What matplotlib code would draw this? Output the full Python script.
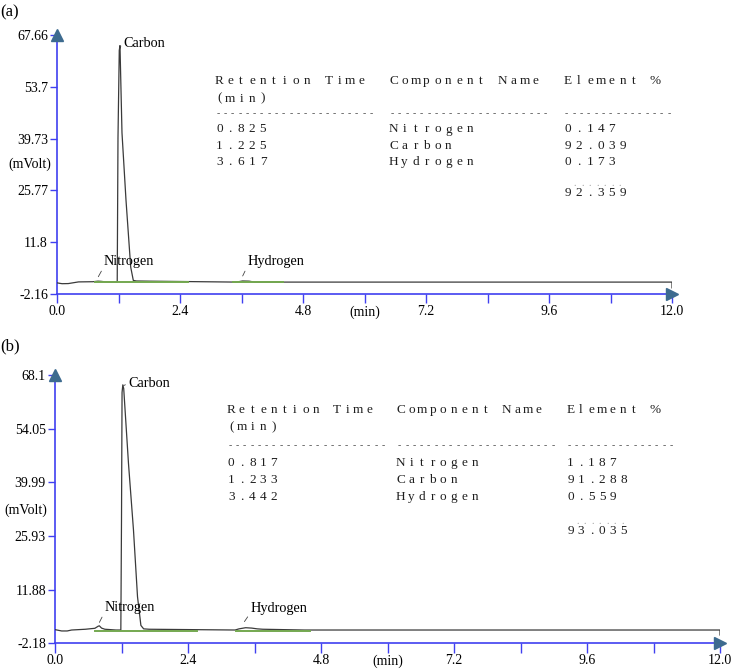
import matplotlib.pyplot as plt

plt.rcParams['font.family'] = ['Liberation Serif', 'DejaVu Serif']

# ---- chromatogram (a) ----
trace_a_t = [0.0, 0.06, 0.10, 0.22, 0.42, 0.70, 0.80, 0.86, 0.95, 1.175, 1.19, 1.215, 1.229,
             1.268, 1.346, 1.438, 1.489, 1.55, 1.80, 3.50, 3.62, 3.75, 3.85, 12.0, 12.0]
trace_a_v = [0.85, 0.70, 0.62, 0.65, 1.10, 1.15, 1.30, 1.25, 1.10, 1.05, 40.0, 63.5, 64.8,
             41.3, 23.2, 5.1, 1.5, 1.35, 1.3, 1.05, 1.35, 1.30, 1.05, 1.05, -0.5]
green_a = [(0.74, 2.56), (3.43, 4.41)]
base_a = 1.0
yticks_a = [-2.16, 11.8, 25.77, 39.73, 53.7, 67.66]
ylabels_a = ['-2.16', '11.8', '25.77', '39.73', '53.7', '67.66']
ret_a = ['0.825', '1.225', '3.617']
pct_a = ['0.147', '92.039', '0.173']
total_a = '92.359'

# ---- chromatogram (b) ----
trace_b_t = [0.0, 0.12, 0.22, 0.30, 0.55, 0.72, 0.78, 0.80, 0.84, 0.90, 1.10, 1.188, 1.20, 1.21,
             1.224, 1.24, 1.326, 1.416, 1.489, 1.55, 1.60, 1.70, 3.25, 3.32, 3.44, 3.55, 3.65,
             3.75, 4.50, 12.0, 12.0]
trace_b_v = [1.4, 1.05, 1.05, 1.3, 1.5, 1.75, 2.3, 2.4, 1.8, 1.5, 1.3, 1.3, 30.0, 63.5,
             65.5, 64.5, 44.9, 27.5, 10.0, 2.5, 1.6, 1.5, 1.3, 1.6, 1.9, 1.8, 1.6,
             1.5, 1.3, 1.3, 0.0]
green_b = [(0.72, 2.57), (3.26, 4.61)]
base_b = 1.15
yticks_b = [-2.18, 11.88, 25.93, 39.99, 54.05, 68.1]
ylabels_b = ['-2.18', '11.88', '25.93', '39.99', '54.05', '68.1']
ret_b = ['0.817', '1.233', '3.442']
pct_b = ['1.187', '91.288', '0.559']
total_b = '93.035'

components = ['Nitrogen', 'Carbon', 'Hydrogen']
xticks = [0.0, 1.2, 2.4, 3.6, 4.8, 6.0, 7.2, 8.4, 9.6, 10.8, 12.0]
xlabels = ['0.0', '', '2.4', '', '4.8', '(min)', '7.2', '', '9.6', '', '12.0']

W, H = 734, 669
fig = plt.figure(figsize=(W / 100, H / 100), dpi=100)

BLUE = '#4040f0'
ARROW = '#3d6b8f'
GREEN = '#74a850'


def px_axes(left, top, right, bottom):
    return fig.add_axes([left / W, 1 - bottom / H, (right - left) / W, (bottom - top) / H])


def spaced(x, y, s, pitch, size=9.5, color='#1e1e1e'):
    # fixed-pitch text like the instrument printout
    for i, ch in enumerate(s):
        if ch != ' ':
            fig.text((x + pitch * 0.4 + i * pitch) / W, 1 - y / H, ch, ha='center',
                     va='center', fontsize=size, color=color)


def panel(ax, t, v, greens, base, yticks, ylabels, tick_len, xpad, notes):
    ax.plot(t, v, color='#3a3a3a', lw=0.9, zorder=3)
    for a, b in greens:
        ax.plot([a, b], [base, base], color=GREEN, lw=1.4, zorder=4)
    ax.set_xlim(0, 12)
    ax.set_ylim(yticks[0], yticks[-1])
    for s in ['top', 'right']:
        ax.spines[s].set_visible(False)
    for s in ['left', 'bottom']:
        ax.spines[s].set_color(BLUE)
        ax.spines[s].set_linewidth(1.2)
    ax.plot([0], [yticks[-1]], marker='^', ms=8, color=ARROW, mec=ARROW, clip_on=False, zorder=5)
    ax.plot([12], [yticks[0]], marker='>', ms=8, color=ARROW, mec=ARROW, clip_on=False, zorder=5)
    ax.set_yticks(yticks)
    ax.set_yticklabels(ylabels)
    ax.set_xticks(xticks)
    ax.set_xticklabels(xlabels)
    ax.tick_params(axis='y', direction='out', length=5, width=1, color=BLUE, pad=1.5, labelsize=10)
    ax.tick_params(axis='x', direction='out', length=tick_len, width=1, color=BLUE, pad=xpad,
                   labelsize=10)
    for name, xy, xyt, rel in notes:
        ax.annotate(name, xy=xy, xytext=xyt, ha='left', va='center', fontsize=10.3,
                    arrowprops=dict(arrowstyle='-', lw=0.6, color='#444444', relpos=rel,
                                    shrinkA=0, shrinkB=0))


ax_a = px_axes(57, 35, 672, 294)
panel(ax_a, trace_a_t, trace_a_v, green_a, base_a, yticks_a, ylabels_a, 6.5, 1.5,
      [('Carbon', (1.235, 64.5), (1.30, 65.5), (0, 0.5)),
       ('Nitrogen', (0.806, 2.5), (0.917, 6.5), (0, 0.15)),
       ('Hydrogen', (3.623, 2.7), (3.713, 6.5), (0, 0.15))])

ax_b = px_axes(55, 374.9, 720, 643.3)
panel(ax_b, trace_b_t, trace_b_v, green_b, base_b, yticks_b, ylabels_b, 7.0, 1.0,
      [('Carbon', (1.24, 65.3), (1.32, 65.9), (0, 0.5)),
       ('Nitrogen', (0.801, 3.3), (0.892, 7.1), (0, 0.15)),
       ('Hydrogen', (3.418, 3.5), (3.527, 7.0), (0, 0.15))])

fig.text(0, 1 - 12 / H, '(a)', ha='left', va='center', fontsize=12)
fig.text(0, 1 - 346 / H, '(b)', ha='left', va='center', fontsize=12)
fig.text(30 / W, 1 - 164 / H, '(mVolt)', ha='center', va='center', fontsize=10)
fig.text(25.5 / W, 1 - 510 / H, '(mVolt)', ha='center', va='center', fontsize=10)


def table(x0, pitch, rets, pcts, total, row_dy, ys):
    c1, c2, c3 = x0, x0 + 16 * pitch, x0 + 32 * pitch
    y_head, y_min, y_dash, y_rows, y_dots, y_tot = ys
    spaced(c1, y_head, 'Retention Time', pitch)
    spaced(c2, y_head, 'Component Name', pitch)
    spaced(c3, y_head, 'Element %', pitch)
    spaced(c1, y_min, '(min)', pitch)
    dp = 7.3
    spaced(c1, y_dash, '-' * 22, dp, size=7, color='#555555')
    spaced(c2, y_dash, '-' * 22, dp, size=7, color='#555555')
    spaced(c3, y_dash, '-' * 15, dp, size=7, color='#555555')
    for i in range(3):
        spaced(c1, y_rows + i * row_dy, rets[i], pitch)
        spaced(c2, y_rows + i * row_dy, components[i], pitch)
        spaced(c3, y_rows + i * row_dy, pcts[i], pitch)
    spaced(c3 + 8, y_dots, '.' * 7, 7.5, size=7, color='#999999')
    spaced(c3, y_tot, total, pitch)


table(215, 10.9, ret_a, pct_a, total_a, 16.2, (81, 98.5, 114, 129.5, 184, 193))
table(227, 10.6, ret_b, pct_b, total_b, 16.7, (410, 427, 446, 463.3, 521, 531))

fig.savefig('out.png', dpi=100)
